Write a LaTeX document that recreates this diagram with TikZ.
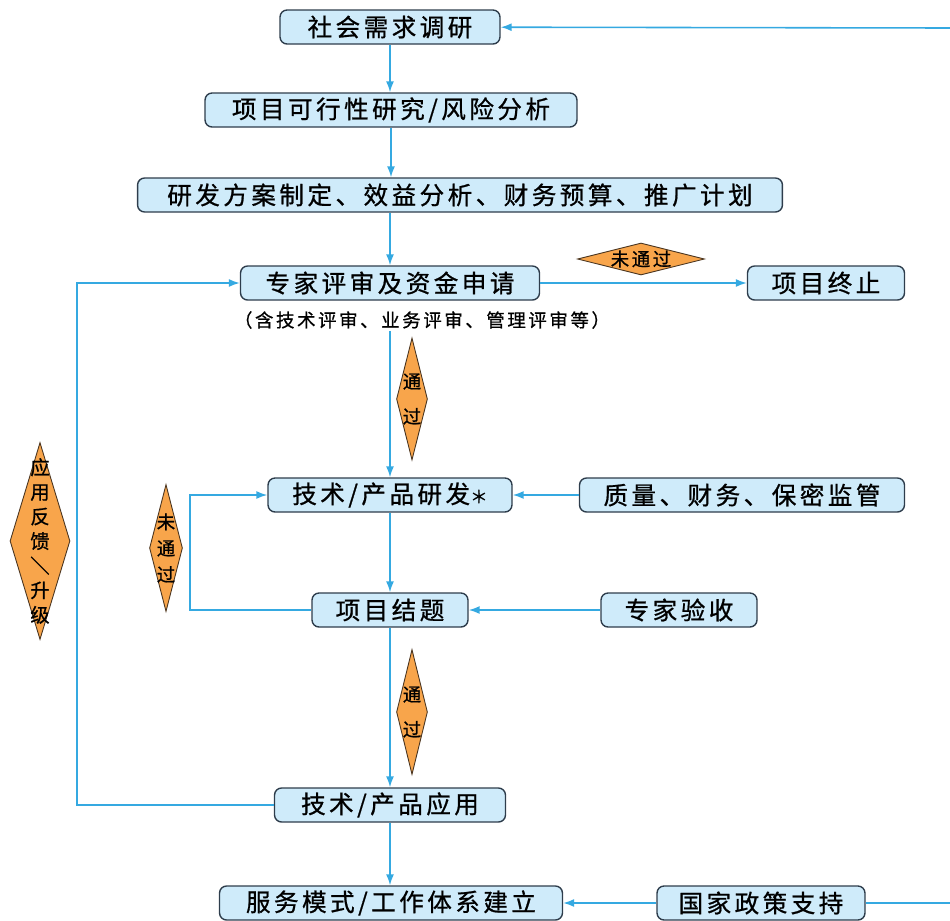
\documentclass[tikz,border=0pt]{standalone}
\usepackage{fontspec}
\newfontfamily\cjk[LetterSpace=14, FakeBold=0.8]{Noto Sans CJK SC}
\usetikzlibrary{
  shapes.geometric,
  arrows.meta,
  calc
}
\definecolor{boxblue}{HTML}{CFEBFA}
\definecolor{boxline}{HTML}{2E3D4C}
\definecolor{flowblue}{HTML}{35A9E1}
\definecolor{gateorange}{HTML}{F8A54B}
\definecolor{gateline}{HTML}{4A3520}
\tikzset{
  box/.style={rectangle, rounded corners=4pt, draw=boxline, fill=boxblue, line width=0.8pt,
    minimum height=0.68cm, inner sep=0pt, font=\cjk\fontsize{14}{16}\selectfont},
  gate/.style={diamond, draw=gateline, fill=gateorange, line width=0.5pt, inner sep=-3pt,
    align=center},
  flow/.style={draw=flowblue, line width=0.9pt, -{Latex[length=2.2mm,width=1.6mm]}},
  wire/.style={draw=flowblue, line width=0.9pt}
}

\begin{document}
\begin{tikzpicture}[x=0.02cm, y=-0.02cm]
    \useasboundingbox (0,0) rectangle (950,920);

    \node[box, minimum width=4.4cm] (1) at (390,27) {社会需求调研};
    \node[box, minimum width=7.44cm] (2) at (391,110) {项目可行性研究/风险分析};
    \node[box, minimum width=12.9cm] (3) at (460,195) {研发方案制定、效益分析、财务预算、推广计划};
    \node[box, minimum width=5.98cm] (4) at (390,283) {专家评审及资金申请};
    \node[font=\cjk\fontsize{10.5}{12}\selectfont, inner sep=1pt] (n) at (422,320) {（含技术评审、业务评审、管理评审等）};
    \node[box, minimum width=3.14cm] (5) at (826,283) {项目终止};
    \node[box, minimum width=4.88cm] (6) at (390,495) {技术/产品研发{\fontsize{10}{12}\selectfont ＊}};
    \node[box, minimum width=6.5cm] (7) at (742,495) {质量、财务、保密监管};
    \node[box, minimum width=3.12cm] (8) at (390,610) {项目结题};
    \node[box, minimum width=3.12cm] (9) at (679,610) {专家验收};
    \node[box, minimum width=4.62cm] (10) at (390,805) {技术/产品应用};
    \node[box, minimum width=6.86cm] (11) at (391,903) {服务模式/工作体系建立};
    \node[box, minimum width=4.16cm] (12) at (761,903) {国家政策支持};

    \node[gate, aspect=4, minimum width=2.54cm, minimum height=0.64cm, font=\cjk\fontsize{10.5}{12}\selectfont] (d1) at (641,259) {未通过};
    \node[gate, aspect=0.25, minimum width=0.62cm, minimum height=2.44cm, font=\cjk\fontsize{10.5}{20}\selectfont] (d2) at (412,399) {通\\过};
    \node[gate, aspect=0.26, minimum width=0.66cm, minimum height=2.54cm, font=\cjk\fontsize{10.5}{15}\selectfont] (d3) at (166,548) {未\\通\\过};
    \node[gate, aspect=0.25, minimum width=0.62cm, minimum height=2.5cm, font=\cjk\fontsize{10.5}{20}\selectfont] (d4) at (412,712) {通\\过};
    \node[gate, aspect=0.3, minimum width=1.2cm, minimum height=3.94cm, font=\cjk\fontsize{11}{14}\selectfont] (d5) at (40,541) {应\\用\\反\\馈\\＼\\升\\级};

    \coordinate (c1) at (190,610);
    \coordinate (c2) at (77,805);
    \coordinate (c3) at (950,28);
    \coordinate (c4) at (950,903);

    \draw[flow] (1) -- (1 |- 2.north);
    \draw[flow] (2) -- (2 |- 3.north);
    \draw[flow] (3.south -| 4) -- (4);
    \draw[flow] (4) -- (5);
    \draw[flow] (4 |- n.south) -- (6);
    \draw[flow] (6) -- (8);
    \draw[flow] (8) -- (10);
    \draw[flow] (10) -- (10 |- 11.north);
    \draw[flow] (7) -- (6);
    \draw[flow] (9) -- (8);
    \draw[flow] (12) -- (11);
    \draw[flow] (8) -- (c1) |- (6);
    \draw[flow] (10) -- (c2) |- (4);
    \draw[flow] (c3) -- (1);
    \draw[wire] (12) -- (c4);
\end{tikzpicture}
\end{document}
